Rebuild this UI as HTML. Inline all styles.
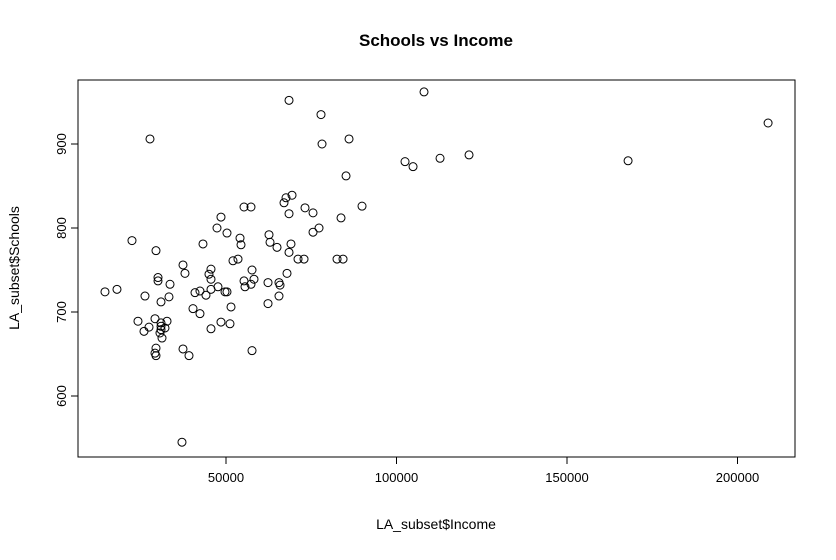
<!DOCTYPE html>
<html><head><meta charset="utf-8"><style>
html,body{margin:0;padding:0;background:#fff;}
svg text{font-family:"Liberation Sans",Arial,sans-serif;fill:#000;}
</style></head><body>
<svg id="chart" width="836" height="555" viewBox="0 0 836 555" xmlns="http://www.w3.org/2000/svg">
<text x="436" y="46" text-anchor="middle" font-size="17" font-weight="bold">Schools vs Income</text>
<rect x="78" y="80" width="717" height="377" fill="none" stroke="#000" stroke-width="1"/>
<g id="xaxis"></g>
<g id="yaxis"></g>
<g id="pts"></g>
<text x="436" y="529" text-anchor="middle" font-size="14">LA_subset$Income</text>
<text transform="translate(19,268) rotate(-90)" text-anchor="middle" font-size="14">LA_subset$Schools</text>
</svg>
<script>
const income=[14510,18030,22430,29470,26240,30060,30060,33580,33280,30940,24190,27420,25950,29180,30940,30940,32700,32110,30940,30640,31230,29470,29180,29470,37390,39150,37390,37970,43250,47360,48530,50290,54110,54400,55280,57330,52050,53520,45600,45010,45600,40910,42370,44130,45600,47650,49710,50290,51470,40320,42370,45600,48530,51170,57630,57630,55280,55570,57330,58210,62320,65540,65840,65540,62320,67890,62610,62910,64960,68480,69060,71120,72880,82560,84320,67010,67600,69360,68480,73170,75520,75520,77280,83730,27710,37090,68480,77860,78160,86080,85200,89890,102500,104850,108070,112770,121270,167910,208970];
const schools=[724,727,785,773,719,741,737,733,718,712,689,682,677,692,687,683,689,681,679,675,669,657,651,648,656,648,756,746,781,800,813,794,788,780,825,825,761,763,751,745,739,723,725,720,727,730,724,724,706,704,698,680,688,686,654,750,737,730,733,739,735,735,732,719,710,746,792,783,777,771,781,763,763,763,763,830,836,839,817,824,818,795,800,812,906,545,952,935,900,906,862,826,879,873,962,883,887,880,925];
const xTicks=[50000,100000,150000,200000];
const yTicks=[600,700,800,900];
const NS="http://www.w3.org/2000/svg";
function sx(v){return 226+(v-50000)*170.5/50000;}
function sy(v){return 144+(900-v)*0.84;}
function mk(t,a,p){const e=document.createElementNS(NS,t);for(const k in a)e.setAttribute(k,a[k]);p.appendChild(e);return e;}
const xa=document.getElementById('xaxis'),ya=document.getElementById('yaxis'),pg=document.getElementById('pts');
mk('line',{x1:sx(xTicks[0]),x2:sx(xTicks[xTicks.length-1]),y1:457,y2:457,stroke:'#000'},xa);
xTicks.forEach(t=>{
 const l=mk('line',{x1:sx(t),x2:sx(t),y1:457,y2:464,stroke:'#000'},xa);
 
 
 const tx=mk('text',{x:sx(t),y:482,'text-anchor':'middle','font-size':'13'},xa);
 tx.textContent=t;
 
 
});
mk('line',{x1:78,x2:78,y1:sy(yTicks[0]),y2:sy(yTicks[yTicks.length-1]),stroke:'#000'},ya);
yTicks.forEach(t=>{
 const l=mk('line',{x1:71,x2:78,y1:sy(t),y2:sy(t),stroke:'#000'},ya);
 
 
 const tx=mk('text',{transform:`translate(66,${sy(t)}) rotate(-90)`,'text-anchor':'middle','font-size':'13'},ya);
 tx.textContent=t;
 
 
});
income.forEach((v,i)=>{
 const c=mk('circle',{cx:sx(v),cy:sy(schools[i]),r:4,fill:'none',stroke:'#000','stroke-width':1},pg);
 
 
});
</script>
</body></html>
